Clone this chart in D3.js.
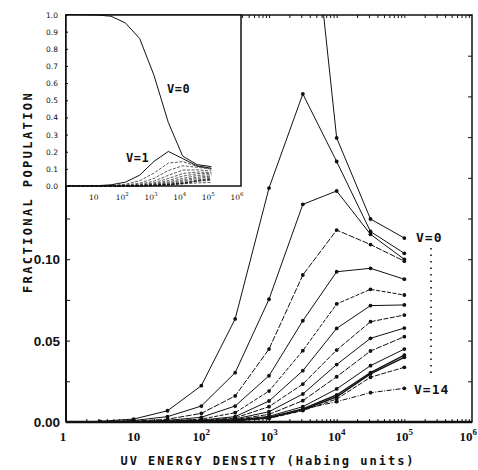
<!DOCTYPE html>
<html><head><meta charset="utf-8">
<script src="https://cdn.jsdelivr.net/npm/d3@7"></script>
<style>
html,body{margin:0;padding:0;background:#fff;}
svg{display:block;}
</style></head>
<body>
<svg id="chart" width="478" height="470"></svg>
<script>
// UV energy density (Habing units), half-decade grid
const energies = [1, 3.162, 10, 31.62, 100, 316.2, 1000, 3162, 10000, 31620, 100000];
const levels = ["V=0","V=1","V=2","V=3","V=4","V=5","V=6","V=7","V=8","V=9","V=10","V=11","V=12","V=13","V=14"];
const v0  = [1.0, 0.999, 0.997, 0.99, 0.951, 0.86, 0.645, 0.37, 0.1745, 0.1247, 0.113];
const v1  = [0, 0.0004, 0.0018, 0.0069, 0.0223, 0.0633, 0.1437, 0.2015, 0.160, 0.117, 0.1036];
const v2  = [0, 0.0001, 0.0009, 0.0033, 0.0098, 0.0303, 0.0754, 0.1337, 0.1419, 0.1153, 0.0999];
const v3  = [0, 0, 0.0005, 0.0017, 0.0053, 0.016, 0.0448, 0.0903, 0.1179, 0.109, 0.0988];
const v4  = [0, 0, 0.0003, 0.001, 0.0029, 0.0098, 0.0284, 0.0622, 0.0923, 0.0944, 0.0877];
const v5  = [0, 0, 0.0002, 0.0006, 0.0018, 0.0057, 0.019, 0.0438, 0.0725, 0.0815, 0.078];
const v6  = [0, 0, 0.0001, 0.0004, 0.0012, 0.0033, 0.0129, 0.0315, 0.0575, 0.0715, 0.0719];
const v7  = [0, 0, 0.0001, 0.0003, 0.0009, 0.0025, 0.0094, 0.0233, 0.0442, 0.0616, 0.0657];
const v8  = [0, 0, 0, 0.0002, 0.0007, 0.0019, 0.0063, 0.0172, 0.0353, 0.0514, 0.0577];
const v9  = [0, 0, 0, 0.0002, 0.0005, 0.0015, 0.0047, 0.0131, 0.0278, 0.0436, 0.0524];
const v10 = [0, 0, 0, 0.0001, 0.0004, 0.0012, 0.0035, 0.0094, 0.0203, 0.0346, 0.0448];
const v11 = [0, 0, 0, 0.0001, 0.0003, 0.0010, 0.0028, 0.0080, 0.0166, 0.0303, 0.0411];
const v12 = [0, 0, 0, 0.0001, 0.0003, 0.0009, 0.0025, 0.0074, 0.0155, 0.0295, 0.0397];
const v13 = [0, 0, 0, 0.0001, 0.0002, 0.0008, 0.0022, 0.0070, 0.0141, 0.0275, 0.0336];
const v14 = [0, 0, 0, 0.0001, 0.0003, 0.0009, 0.0025, 0.0078, 0.0125, 0.018, 0.0207];
const seriesValues = [v0,v1,v2,v3,v4,v5,v6,v7,v8,v9,v10,v11,v12,v13,v14];

const mainYTicks = [0, 0.05, 0.10];
const mainYLabels = ["0.00", "0.05", "0.10"];
const decadeTicks = [1, 10, 100, 1000, 10000, 100000, 1000000];
const decadeExp = ["", "", "2", "3", "4", "5", "6"];
const decadeBase = ["1", "10", "10", "10", "10", "10", "10"];
const insetYTicks = [0, 0.1, 0.2, 0.3, 0.4, 0.5, 0.6, 0.7, 0.8, 0.9, 1.0];
const insetYLabels = ["0.0","0.1","0.2","0.3","0.4","0.5","0.6","0.7","0.8","0.9","1.0"];

const dashes = [null, null, null, "6,1.5", null, "4,1.5", null, "5,1.5", null, "6,1.5", null, null, null, "5,1.5", "5,1.5,1,1.5"];

const svg = d3.select("#chart");
const ink = "#111";

// ---------- main plot ----------
const L = 66, R = 472, T = 15, B = 422;
const x = d3.scaleLog().domain([1, 1e6]).range([L, R]);
const y = d3.scaleLinear().domain([0, 0.25]).range([B, T]);

svg.append("defs").append("clipPath").attr("id","mainclip")
  .append("rect").attr("x", L).attr("y", T).attr("width", R - L).attr("height", B - T);

const data = seriesValues.map((vals, i) => ({name: levels[i], pts: vals.map((v, j) => ({e: energies[j], v}))}));

const line = d3.line().x(d => x(d.e)).y(d => y(d.v));
const gm = svg.append("g").attr("clip-path", "url(#mainclip)");
data.forEach((s, i) => {
  gm.append("path").attr("d", line(s.pts)).attr("fill", "none").attr("stroke", ink)
    .attr("stroke-width", i >= 11 && i <= 12 ? 1.4 : 1)
    .attr("stroke-dasharray", dashes[i]);
  gm.selectAll(null).data(s.pts.slice(1)).enter().append("circle")
    .attr("cx", d => x(d.e)).attr("cy", d => y(d.v)).attr("r", 1.9).attr("fill", ink);
});

// frame
svg.append("rect").attr("x", L).attr("y", T).attr("width", R - L).attr("height", B - T)
  .attr("fill", "none").attr("stroke", ink).attr("stroke-width", 1.5);
svg.append("line").attr("x1", L).attr("x2", R).attr("y1", B).attr("y2", B).attr("stroke", ink).attr("stroke-width", 2.4);
svg.append("line").attr("x1", L).attr("x2", L).attr("y1", T).attr("y2", B).attr("stroke", ink).attr("stroke-width", 2);

// axes (inward ticks)
const yMinor = d3.range(0, 0.2501, 0.025);
const axL = d3.axisRight(y).tickValues(yMinor).tickSize(4).tickFormat("");
const axR = d3.axisLeft(y).tickValues(yMinor).tickSize(4).tickFormat("");
svg.append("g").attr("transform", `translate(${L},0)`).call(axL).call(g => g.select(".domain").remove());
svg.append("g").attr("transform", `translate(${R},0)`).call(axR).call(g => g.select(".domain").remove());
const xMinor = [];
for (let d = 1; d < 1e6; d *= 10) for (let k = 1; k < 10; k++) xMinor.push(d * k);
const axB = d3.axisTop(x).tickValues(xMinor).tickSize(3).tickFormat("");
const axT = d3.axisBottom(x).tickValues(xMinor).tickSize(3).tickFormat("");
svg.append("g").attr("transform", `translate(0,${B})`).call(axB).call(g => g.select(".domain").remove());
svg.append("g").attr("transform", `translate(0,${T})`).call(axT).call(g => g.select(".domain").remove());
svg.selectAll(".tick line").attr("stroke", ink);

// main y labels
svg.selectAll(null).data(mainYTicks).enter().append("text")
  .attr("x", 60).attr("y", d => y(d) + 5).attr("text-anchor", "end")
  .attr("font-family", "Liberation Sans, Arial, sans-serif").attr("font-weight", "bold").attr("font-size", 13.5)
  .attr("fill", ink).text((d, i) => mainYLabels[i]);

// main x labels
decadeTicks.forEach((d, i) => {
  const last = i === decadeTicks.length - 1;
  const t = svg.append("text").attr("x", last ? 477 : x(d) + (i === 0 ? -3 : 0)).attr("y", 441)
    .attr("text-anchor", last ? "end" : "middle")
    .attr("font-family", "Liberation Serif, serif").attr("font-weight", "bold").attr("font-size", 13).attr("fill", ink);
  t.append("tspan").text(decadeBase[i]);
  if (decadeExp[i]) t.append("tspan").attr("dy", -6).attr("font-size", 9).text(decadeExp[i]);
});

// titles
svg.append("text").attr("x", 268).attr("y", 465).attr("text-anchor", "middle")
  .attr("font-family", "DejaVu Sans Mono, monospace").attr("font-weight", "bold").attr("font-size", 12)
  .attr("letter-spacing", 2).attr("fill", ink).text("UV ENERGY DENSITY (Habing units)");
svg.append("text").attr("transform", "translate(32,192) rotate(-90)").attr("text-anchor", "middle")
  .attr("font-family", "DejaVu Sans Mono, monospace").attr("font-weight", "bold").attr("font-size", 12)
  .attr("letter-spacing", 2.4).attr("fill", ink).text("FRACTIONAL POPULATION");

// right annotations
const labFont = g => g.attr("font-family", "DejaVu Sans Mono, monospace").attr("font-weight", "bold").attr("font-size", 13).attr("fill", ink);
svg.append("text").attr("x", 416).attr("y", 242).attr("letter-spacing", 1).call(labFont).text("V=0");
svg.append("text").attr("x", 414).attr("y", 394).attr("letter-spacing", 1).call(labFont).text("V=14");
svg.append("line").attr("x1", 431).attr("x2", 431).attr("y1", 248).attr("y2", 378)
  .attr("stroke", ink).attr("stroke-width", 1.6).attr("stroke-dasharray", "1.5,5");

// ---------- inset ----------
const iL = 66, iR = 241, iT = 15, iB = 186;
const ix = d3.scaleLog().domain([1, 1e6]).range([68, 240]);
const iy = d3.scaleLinear().domain([0, 1]).range([iB, 14.5]);
svg.append("rect").attr("x", iL).attr("y", iT).attr("width", iR - iL).attr("height", iB - iT)
  .attr("fill", "#fff").attr("stroke", ink).attr("stroke-width", 1.5);
const iline = d3.line().x(d => ix(d.e)).y(d => iy(d.v));
data.forEach((s, i) => {
  svg.append("path").attr("d", iline(s.pts)).attr("fill", "none").attr("stroke", ink)
    .attr("stroke-width", i < 2 ? 1 : 0.7)
    .attr("stroke-dasharray", i < 2 ? null : "3,1.5");
});
svg.selectAll(null).data(insetYTicks).enter().append("text")
  .attr("x", 58).attr("y", d => iy(d) + 3).attr("text-anchor", "end")
  .attr("font-family", "DejaVu Sans, sans-serif").attr("font-size", 7.5).attr("fill", ink)
  .text((d, i) => insetYLabels[i]);
const iyAx = d3.axisRight(iy).tickValues(insetYTicks).tickSize(2).tickFormat("");
svg.append("g").attr("transform", `translate(${iL},0)`).call(iyAx).call(g => g.select(".domain").remove());
decadeTicks.slice(1).forEach((d, i) => {
  const k = i + 1;
  const t = svg.append("text").attr("x", ix(d) - 3).attr("y", 200).attr("text-anchor", "middle")
    .attr("font-family", "DejaVu Serif, serif").attr("font-size", 7.5).attr("fill", ink);
  t.append("tspan").text(decadeBase[k]);
  if (decadeExp[k]) t.append("tspan").attr("dy", -4).attr("font-size", 5.5).text(decadeExp[k]);
});
svg.append("text").attr("x", 167).attr("y", 93).call(labFont).attr("font-size", 12).attr("letter-spacing", 0.5).text("V=0");
svg.append("text").attr("x", 126).attr("y", 162).call(labFont).attr("font-size", 12).attr("letter-spacing", 0.5).text("V=1");
</script>
</body></html>
